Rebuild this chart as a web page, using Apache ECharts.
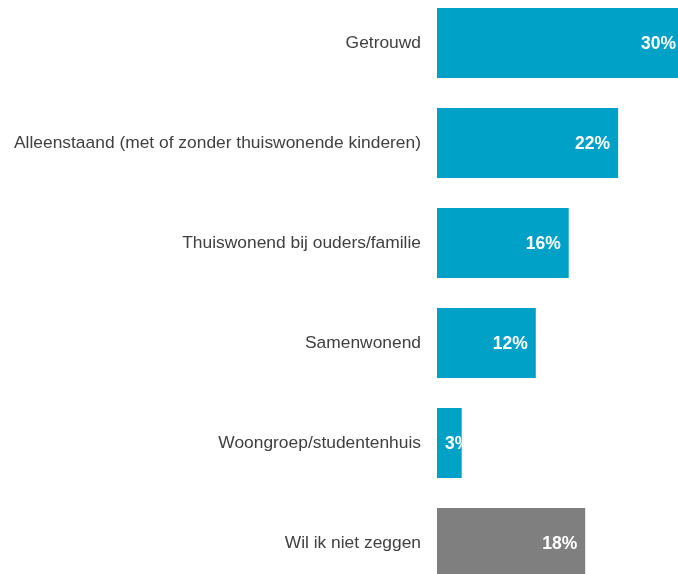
<!DOCTYPE html>
<html>
<head>
<meta charset="utf-8">
<script src="https://cdn.jsdelivr.net/npm/echarts@6/dist/echarts.min.js"></script>
<style>html,body{margin:0;padding:0;background:#fff}#c{width:678px;height:574px}</style>
</head>
<body>
<div id="c"></div>
<script>
var categories = ["Getrouwd", "Alleenstaand (met of zonder thuiswonende kinderen)", "Thuiswonend bij ouders/familie", "Samenwonend", "Woongroep/studentenhuis", "Wil ik niet zeggen"];
var values = [30, 22, 16, 12, 3, 18];
var valueLabels = ["30%", "22%", "16%", "12%", "3%", "18%"];
var barColors = ["#00A1C7", "#00A1C7", "#00A1C7", "#00A1C7", "#00A1C7", "#7F7F7F"];

var chart = echarts.init(document.getElementById('c'), null, {renderer: 'canvas'});
var data = values.map(function (v, i) {
  var small = v < 5;
  return {
    value: v,
    itemStyle: {color: barColors[i]},
    label: {
      position: small ? 'insideLeft' : 'insideRight',
      distance: 8,
      offset: [0, 1.5],
      formatter: valueLabels[i]
    }
  };
});
chart.setOption({
  animation: false,
  grid: {left: 437, top: -7, width: 247, height: 600, containLabel: false, outerBoundsMode: 'none'},
  xAxis: {type: 'value', min: 0, max: 30, show: false},
  yAxis: {
    type: 'category', data: categories, inverse: true,
    axisLine: {show: false}, axisTick: {show: false},
    axisLabel: {margin: 16, fontSize: 17.4, color: '#404040', padding: [4, 0, 0, 0], fontFamily: 'Liberation Sans, Arial, sans-serif'}
  },
  series: [{
    type: 'bar', data: data, barWidth: 70, clip: false,
    label: {show: true, color: '#fff', fontWeight: 'bold', fontSize: 17.5, fontFamily: 'Liberation Sans, Arial, sans-serif'}
  }]
});
</script>
</body>
</html>
